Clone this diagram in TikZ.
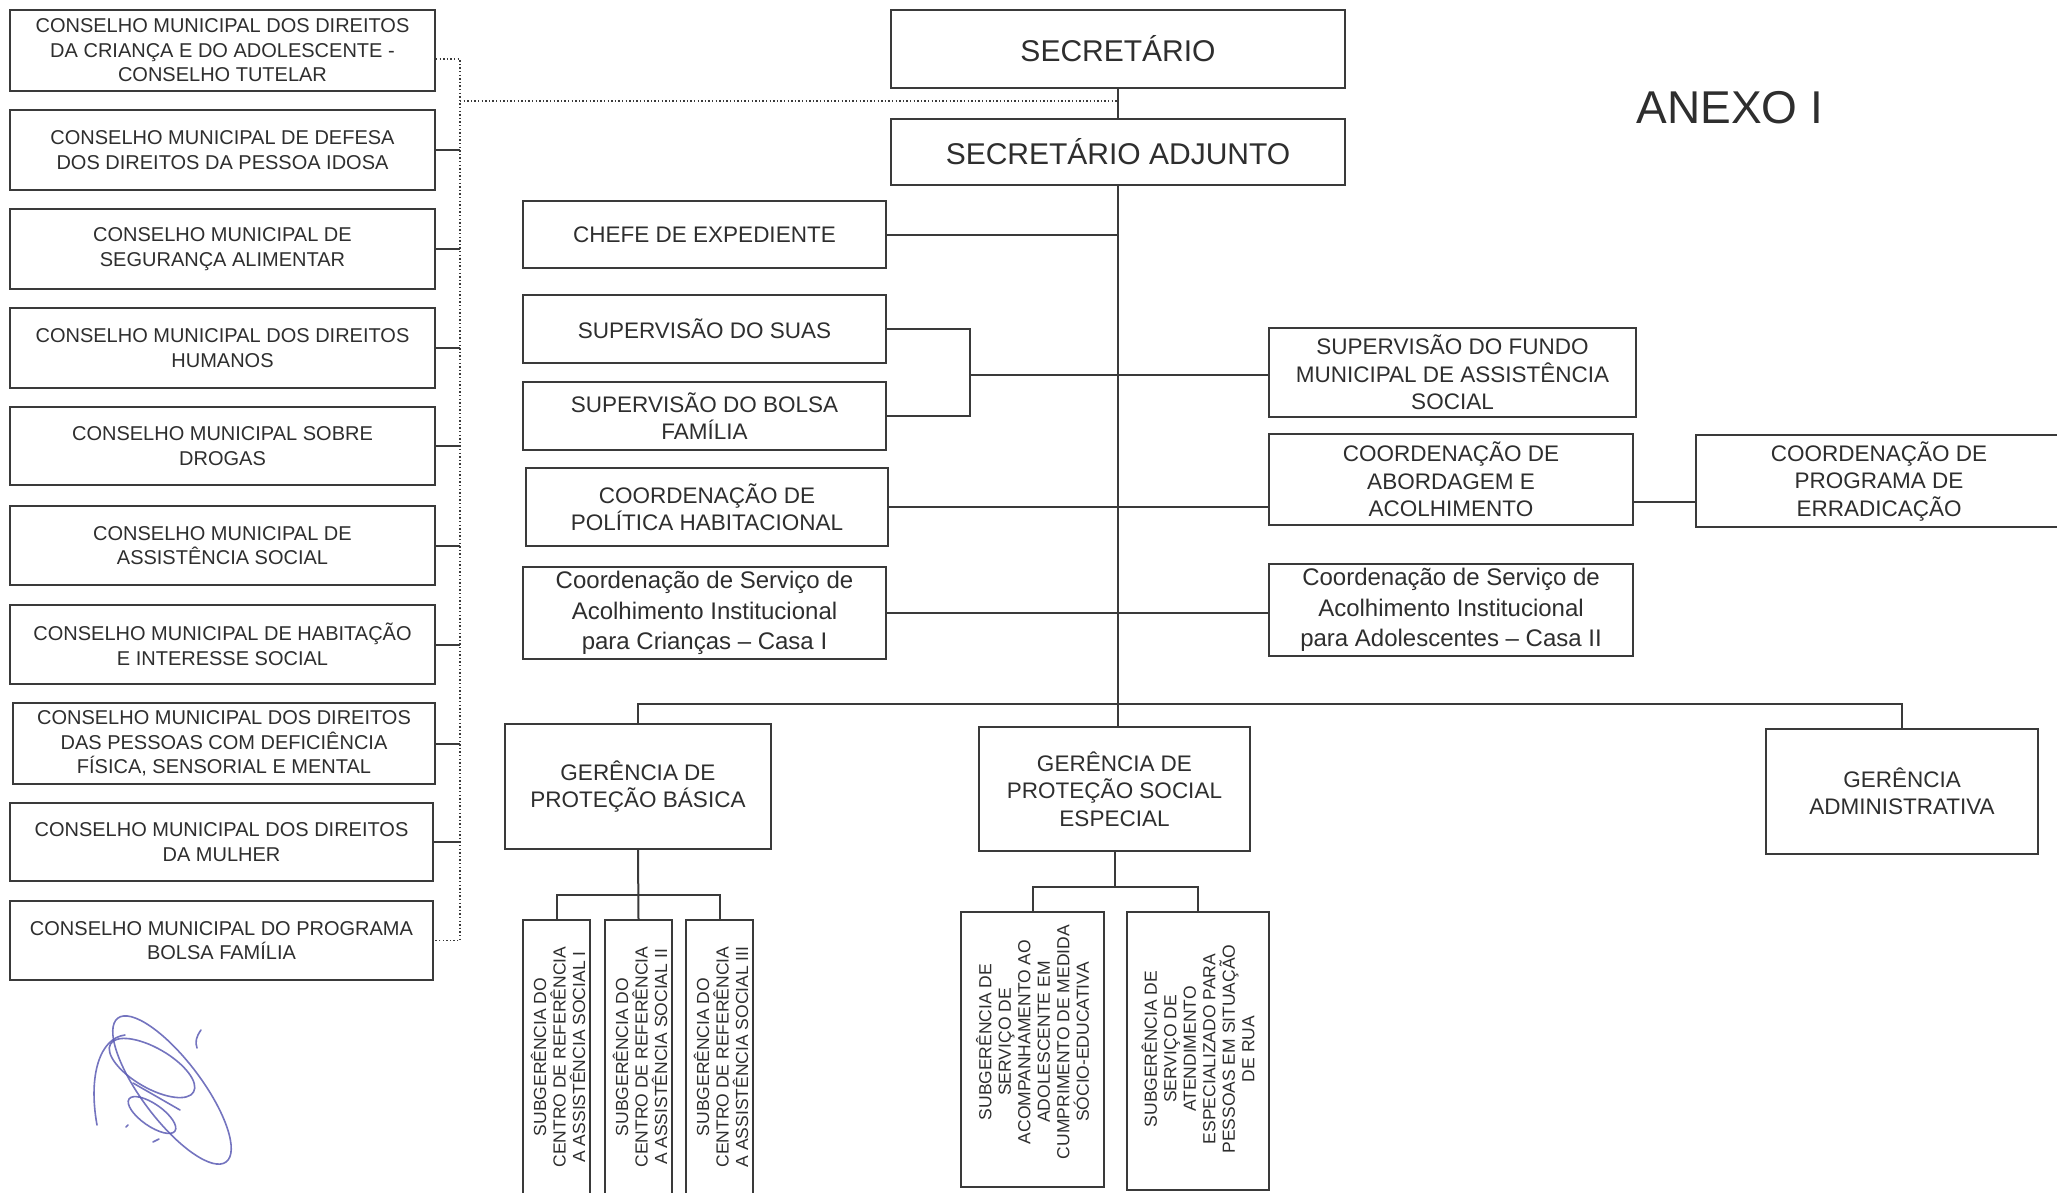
\documentclass[tikz,border=0pt]{standalone}
\usepackage{fontspec}
\setmainfont{Liberation Sans}
\definecolor{linec}{HTML}{3A3A3A}
\definecolor{txt}{HTML}{2E2E2E}
\definecolor{sigc}{HTML}{5C5CB4}
\newcommand{\cfont}{\fontsize{20}{24.5}\selectfont}
\newcommand{\mfont}{\fontsize{22.5}{27.5}\selectfont}
\newcommand{\kfont}{\fontsize{24}{30.5}\selectfont}
\newcommand{\bfontx}{\fontsize{30}{36}\selectfont}
\newcommand{\sfontx}{\fontsize{17.5}{19.5}\selectfont}
\tikzset{
  box/.style={draw=linec, line width=2pt, fill=white, inner sep=0pt, align=center, text=txt, font=\mfont},
  cbox/.style={box, font=\cfont},
  subbox/.style={draw=linec, line width=2pt, fill=white, inner sep=0pt},
  subtxt/.style={rotate=90, align=center, text=txt, font=\sfontx, inner sep=0pt},
  conn/.style={draw=linec, line width=2pt},
  dotline/.style={draw=linec, line width=1.4pt, dash pattern=on 1.4pt off 2.2pt},
  sig/.style={draw=sigc, line width=1.6pt, opacity=0.85, line cap=round}
}
\begin{document}
\begin{tikzpicture}[x=1pt,y=-1pt]
\clip (0,0) rectangle (2057,1192);
\fill[white] (0,0) rectangle (2057,1192);

% councils
\node[cbox, minimum width=425pt, minimum height=81pt] (c1) at (222.5,50.5) {CONSELHO MUNICIPAL DOS DIREITOS\\DA CRIANÇA E DO ADOLESCENTE -\\CONSELHO TUTELAR};
\node[cbox, minimum width=425pt, minimum height=80pt] (c2) at (222.5,150) {CONSELHO MUNICIPAL DE DEFESA\\DOS DIREITOS DA PESSOA IDOSA};
\node[cbox, minimum width=425pt, minimum height=80pt] (c3) at (222.5,249) {CONSELHO MUNICIPAL DE\\SEGURANÇA ALIMENTAR};
\node[cbox, minimum width=425pt, minimum height=80pt] (c4) at (222.5,348) {CONSELHO MUNICIPAL DOS DIREITOS\\HUMANOS};
\node[cbox, minimum width=425pt, minimum height=78pt] (c5) at (222.5,446) {CONSELHO MUNICIPAL SOBRE\\DROGAS};
\node[cbox, minimum width=425pt, minimum height=79pt] (c6) at (222.5,545.5) {CONSELHO MUNICIPAL DE\\ASSISTÊNCIA SOCIAL};
\node[cbox, minimum width=425pt, minimum height=79pt] (c7) at (222.5,644.5) {CONSELHO MUNICIPAL DE HABITAÇÃO\\E INTERESSE SOCIAL};
\node[cbox, minimum width=422pt, minimum height=81pt] (c8) at (224,743.5) {CONSELHO MUNICIPAL DOS DIREITOS\\DAS PESSOAS COM DEFICIÊNCIA\\FÍSICA, SENSORIAL E MENTAL};
\node[cbox, minimum width=423pt, minimum height=78pt] (c9) at (221.5,842) {CONSELHO MUNICIPAL DOS DIREITOS\\DA MULHER};
\node[cbox, minimum width=423pt, minimum height=79pt] (c10) at (221.5,940.5) {CONSELHO MUNICIPAL DO PROGRAMA\\BOLSA FAMÍLIA};

% central
\node[box, font=\bfontx, minimum width=454pt, minimum height=78pt] (sec) at (1118,49) {SECRETÁRIO};
\node[box, font=\bfontx, minimum width=454pt, minimum height=66pt] (adj) at (1118,152) {SECRETÁRIO ADJUNTO};
\node[box, minimum width=363pt, minimum height=67pt] (chefe) at (704.5,234.5) {CHEFE DE EXPEDIENTE};
\node[box, minimum width=363pt, minimum height=68pt] (suas) at (704.5,329) {SUPERVISÃO DO SUAS};
\node[box, minimum width=363pt, minimum height=68pt] (bolsa) at (704.5,416) {SUPERVISÃO DO BOLSA\\FAMÍLIA};
\node[box, minimum width=362pt, minimum height=78pt] (hab) at (707,507) {COORDENAÇÃO DE\\POLÍTICA HABITACIONAL};
\node[box, font=\kfont, minimum width=363pt, minimum height=92pt] (casa1) at (704.5,613) {Coordenação de Serviço de\\Acolhimento Institucional\\para Crianças – Casa I};
\node[box, minimum width=367pt, minimum height=89pt] (fundo) at (1452.5,372.5) {SUPERVISÃO DO FUNDO\\MUNICIPAL DE ASSISTÊNCIA\\SOCIAL};
\node[box, minimum width=364pt, minimum height=91pt] (abord) at (1451,479.5) {COORDENAÇÃO DE\\ABORDAGEM E\\ACOLHIMENTO};
\node[box, minimum width=366pt, minimum height=92pt] (erad) at (1879,481) {COORDENAÇÃO DE\\PROGRAMA DE\\ERRADICAÇÃO};
\node[box, font=\kfont, minimum width=364pt, minimum height=92pt] (casa2) at (1451,610) {Coordenação de Serviço de\\Acolhimento Institucional\\para Adolescentes – Casa II};
\node[box, minimum width=266pt, minimum height=125pt] (basica) at (638,786.5) {GERÊNCIA DE\\PROTEÇÃO BÁSICA};
\node[box, minimum width=271pt, minimum height=124pt] (especial) at (1114.5,789) {GERÊNCIA DE\\PROTEÇÃO SOCIAL\\ESPECIAL};
\node[box, minimum width=272pt, minimum height=125pt] (adm) at (1902,791.5) {GERÊNCIA\\ADMINISTRATIVA};

\node[text=txt, font=\fontsize{46}{50}\selectfont, inner sep=0pt] (anexo) at (1730,107.5) {ANEXO I};

% sub boxes
\node[subbox, minimum width=67pt, minimum height=276pt] (sub1) at (556.5,1058) {};
\node[subbox, minimum width=67pt, minimum height=276pt] (sub2) at (638.5,1058) {};
\node[subbox, minimum width=67pt, minimum height=276pt] (sub3) at (719.5,1058) {};
\node[subbox, minimum width=143pt, minimum height=275pt] (sub4) at (1032.5,1049.5) {};
\node[subbox, minimum width=142pt, minimum height=278pt] (sub5) at (1198,1051) {};
\node[subtxt] (sub1t) at (558,1057) {SUBGERÊNCIA DO\\CENTRO DE REFERÊNCIA\\A ASSISTÊNCIA SOCIAL I};
\node[subtxt] (sub2t) at (640,1057) {SUBGERÊNCIA DO\\CENTRO DE REFERÊNCIA\\A ASSISTÊNCIA SOCIAL II};
\node[subtxt] (sub3t) at (721,1057) {SUBGERÊNCIA DO\\CENTRO DE REFERÊNCIA\\A ASSISTÊNCIA SOCIAL III};
\node[subtxt] (sub4t) at (1032.5,1042) {SUBGERÊNCIA DE\\SERVIÇO DE\\ACOMPANHAMENTO AO\\ADOLESCENTE EM\\CUMPRIMENTO DE MEDIDA\\SÓCIO-EDUCATIVA};
\node[subtxt] (sub5t) at (1198,1049) {SUBGERÊNCIA DE\\SERVIÇO DE\\ATENDIMENTO\\ESPECIALIZADO PARA\\PESSOAS EM SITUAÇÃO\\DE RUA};

% coordinates
\coordinate (dx) at (460,0);
\coordinate (dh) at (460,101);
\coordinate (bm) at (970,375);
\coordinate (bus) at (1117,704);
\coordinate (bb) at (638,895);
\coordinate (eb) at (1115,887);

% council connectors
\draw[dotline] ([yshift=-8.5pt]c1.east) -| (c10.east -| dx) -- (c10.east);
\draw[dotline] (dh) -- (dh -| sec.south);
\foreach \c in {c2,c3,c4,c5,c6,c7,c8,c9} {
  \draw[conn] (\c.east) -- (\c.east -| dx);
}

% trunk
\draw[conn] (sec.south) -- (adj.north);
\draw[conn] (adj.south) -- (adj.south |- especial.north);
\draw[conn] (chefe.east) -- (chefe.east -| adj.south);
\draw[conn] (suas.east) -| (bm) |- (bolsa.east);
\draw[conn] (bm) -- (bm -| fundo.west);
\draw[conn] (hab.east) -- (hab.east -| abord.west);
\draw[conn] ([yshift=-22.5pt]abord.east) -- ([yshift=-22.5pt]abord.east -| erad.west);
\draw[conn] (casa1.east) -- (casa1.east -| casa2.west);
\draw[conn] (basica.north) -- (basica.north |- bus) -- (adm.north |- bus) -- (adm.north);
\draw[conn] (basica.south) -- (sub2.north);
\draw[conn] (sub1.north) -- (sub1.north |- bb) -- (sub3.north |- bb) -- (sub3.north);
\draw[conn] (especial.south) -- (especial.south |- eb);
\draw[conn] (sub4.north) -- (sub4.north |- eb) -- (sub5.north |- eb) -- (sub5.north);

% signature
\draw[sig, rotate around={-53:(172,1090)}] (172,1090) ellipse [x radius=90pt, y radius=30pt];
\draw[sig, rotate around={-30:(152,1068)}] (152,1068) ellipse [x radius=48pt, y radius=20pt];
\draw[sig, rotate around={-35:(152,1115)}] (152,1115) ellipse [x radius=28pt, y radius=11pt];
\draw[sig] (97,1125) .. controls (88,1075) and (100,1038) .. (125,1035);
\draw[sig] (133,1083) -- (180,1110);
\draw[sig] (201,1030) .. controls (196,1037) and (195,1042) .. (197,1048);
\draw[sig] (126,1127) -- (128,1125);
\draw[sig] (153,1142) -- (159,1139);
\end{tikzpicture}
\end{document}
